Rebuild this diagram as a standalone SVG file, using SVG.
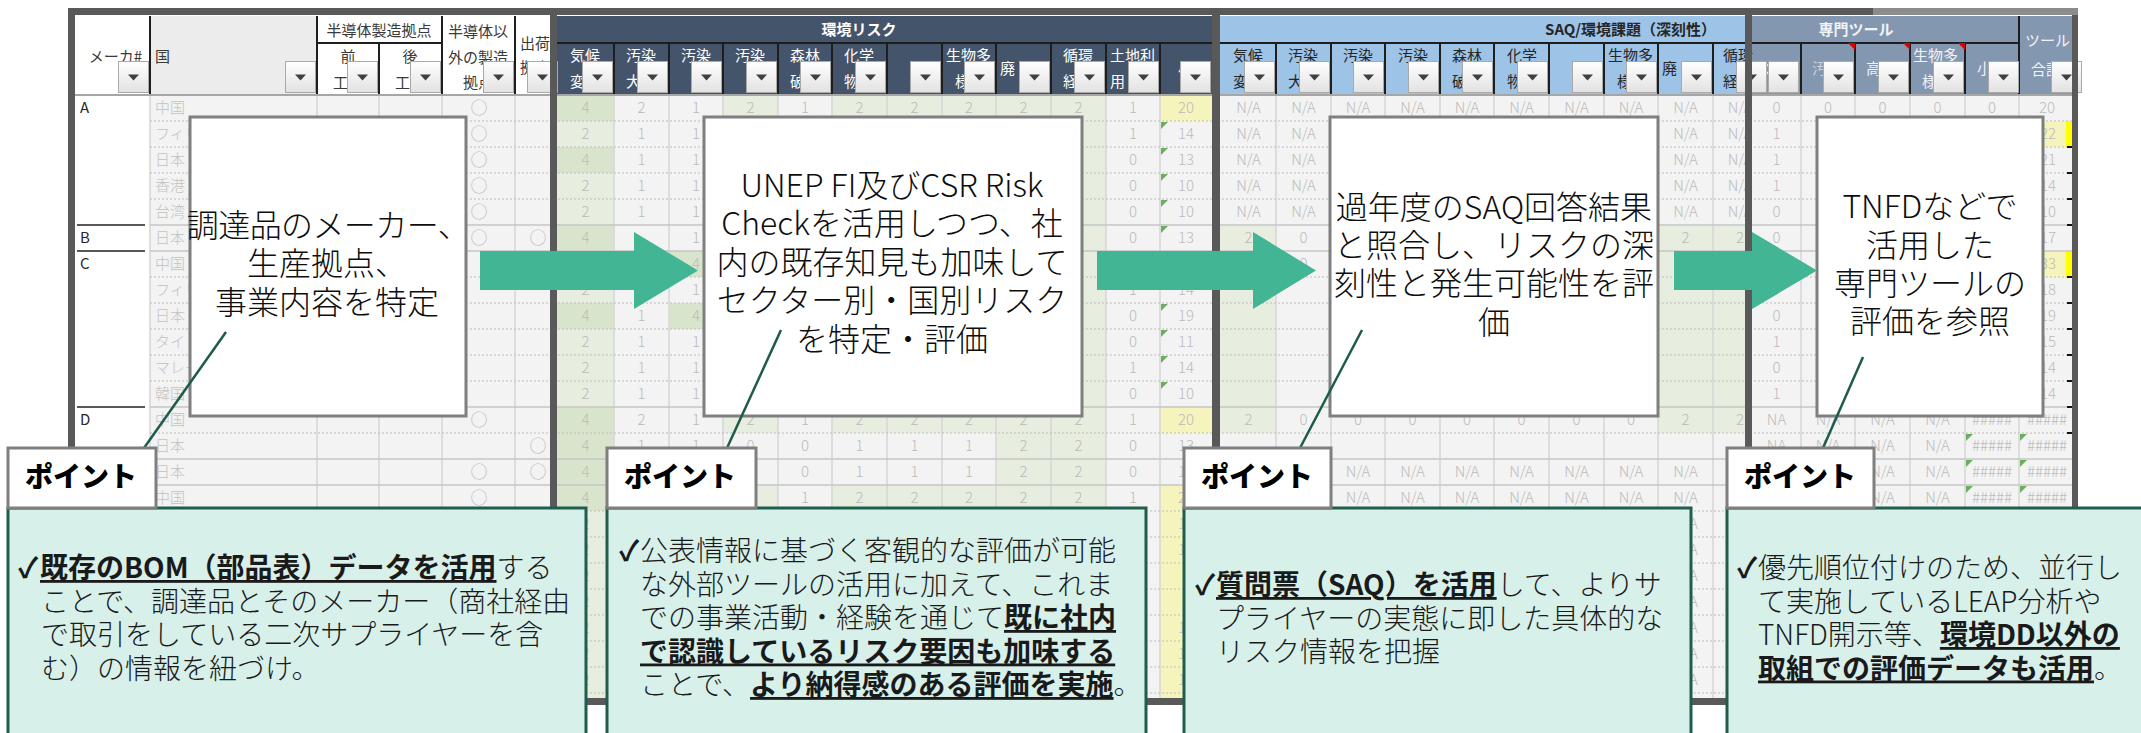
<svg xmlns="http://www.w3.org/2000/svg" width="2141" height="733" viewBox="0 0 2141 733">
<defs>
<linearGradient id="fg" x1="0" y1="0" x2="0" y2="1"><stop offset="0" stop-color="#FFFFFF"/><stop offset="1" stop-color="#E2E2E2"/></linearGradient>
<g id="flt"><rect x="0.5" y="0.5" width="30" height="31" fill="url(#fg)" stroke="#A9A9A9"/><path d="M10 13.5h11l-5.5 6z" fill="#3F3F3F"/></g>
<path id="gt" d="M0 0h7l-7 7z" fill="#6AAE5E"/>
<path id="rt" d="M0 0h7v7z" fill="#E00000"/>
</defs>
<style>
text{font-family:"Noto Sans CJK JP","Noto Sans CJK SC","Noto Sans",sans-serif}
.v{font-size:15px;fill:#BBBBBB;text-anchor:middle;font-weight:300}
.vl{font-size:15px;fill:#C2C2C2;font-weight:300}
.mk{font-size:15px;fill:#2A2A2A}
.o{font-size:17px;fill:#BBBBBB;text-anchor:middle}
.hd{font-size:15px;fill:#3A3A3A}
.hw{font-size:15px;fill:#FFFFFF}
.hb{font-size:15px;fill:#F0F3F7}
.hk{font-size:15px;fill:#262626}
.tt{font-size:15px;font-weight:700}
.bx{font-size:32px;fill:#0D0D0D;text-anchor:middle;font-weight:300}
.co{font-size:28px;fill:#1A1A1A;font-weight:300}
.b{font-weight:700}
.u{text-decoration:underline}
.pt{font-size:28px;font-weight:900;fill:#000000}
.box{fill:#FFFFFF;stroke:#7F7F7F;stroke-width:3}
.cal{fill:#D8F0EA;stroke:#1F5E4C;stroke-width:3}
.arr{fill:#42B594}
.ld{stroke:#1D5B4A;stroke-width:2.5;fill:none}
.g4{fill:#D8E4CC}
.g2{fill:#E7EEDF}
.y{fill:#F4F4BC}
</style>
<rect width="2141" height="733" fill="#FFFFFF"/>
<g id="sheet">
<rect x="75" y="16" width="476" height="79" fill="#FFFFFF"/>
<rect x="150" y="16" width="167" height="79" fill="#ECECEC"/>
<rect x="75" y="95" width="75" height="603" fill="#FFFFFF"/>
<rect x="150" y="95" width="401" height="603" fill="#F3F3F3"/>
<rect x="557" y="16" width="655" height="79" fill="#44546A"/>
<rect x="557" y="95" width="655" height="603" fill="#F3F3F3"/>
<rect x="1220" y="16" width="525" height="79" fill="#9DC3E6"/>
<rect x="1220" y="95" width="525" height="603" fill="#F3F3F3"/>
<rect x="1752" y="16" width="320" height="79" fill="#8497B0"/>
<rect x="1752" y="95" width="320" height="603" fill="#F3F3F3"/>
<rect class="g4" x="557" y="95" width="57" height="26"/>
<rect class="g2" x="723" y="95" width="55" height="26"/>
<rect class="g2" x="832" y="95" width="274" height="26"/>
<rect class="y" x="1160" y="95" width="52" height="26"/>
<rect class="g2" x="557" y="121" width="57" height="26"/>
<rect class="g4" x="557" y="147" width="57" height="26"/>
<rect class="g2" x="557" y="173" width="57" height="52"/>
<rect class="g4" x="557" y="225" width="57" height="52"/>
<rect class="g2" x="557" y="277" width="57" height="26"/>
<rect class="g4" x="557" y="303" width="57" height="26"/>
<rect class="g2" x="557" y="329" width="57" height="78"/>
<rect class="g4" x="669" y="251" width="54" height="26"/>
<rect class="g4" x="669" y="303" width="54" height="26"/>
<rect class="g2" x="1051" y="121" width="55" height="286"/>
<rect class="g4" x="557" y="407" width="57" height="104"/>
<rect class="g2" x="723" y="407" width="55" height="26"/>
<rect class="g2" x="832" y="407" width="274" height="26"/>
<rect class="y" x="1160" y="407" width="52" height="26"/>
<rect class="g2" x="996" y="433" width="110" height="52"/>
<rect class="g2" x="723" y="485" width="55" height="26"/>
<rect class="g2" x="832" y="485" width="274" height="26"/>
<rect class="y" x="1160" y="485" width="52" height="213"/>
<rect class="g2" x="557" y="511" width="57" height="187"/>
<rect class="g2" x="1220" y="225" width="56" height="208"/>
<rect class="g2" x="1658" y="225" width="87" height="208"/>
<rect class="y" x="2019" y="121" width="53" height="26"/>
<rect x="2066" y="121" width="6" height="26" fill="#FFFF00"/>
<rect class="y" x="2019" y="251" width="53" height="26"/>
<rect x="2066" y="251" width="6" height="26" fill="#FFFF00"/>
<path d="M150 95V698M317 95V698M379 95V698M442 95V698M515 95V698M614 95V698M669 95V698M723 95V698M778 95V698M832 95V698M887 95V698M942 95V698M996 95V698M1051 95V698M1106 95V698M1160 95V698M1276 95V698M1331 95V698M1385 95V698M1440 95V698M1494 95V698M1549 95V698M1604 95V698M1658 95V698M1713 95V698M1801 95V698M1855 95V698M1910 95V698M1965 95V698M2019 95V698" stroke="#D6D6D6" stroke-width="1.5" fill="none"/>
<path d="M150 121H2072M150 147H2072M150 173H2072M150 199H2072M150 277H2072M150 303H2072M150 329H2072M150 355H2072M150 381H2072M150 433H2072M150 511H2072M150 537H2072M150 563H2072M150 589H2072M150 615H2072M150 641H2072M150 667H2072M150 693H2072" stroke="#BDBDBD" stroke-dasharray="2 2" fill="none"/>
<path d="M150 225H2072M150 251H2072M150 407H2072M150 459H2072M150 485H2072" stroke="#C6C6C6" stroke-width="1.5" fill="none"/>
<path d="M77 225H145M77 251H145M77 407H145" stroke="#222222" stroke-width="1.5" fill="none"/>
<path d="M2067 147h5M2067 173h5M2067 199h5M2067 225h5M2067 277h5M2067 303h5M2067 329h5M2067 355h5M2067 381h5M2067 407h5M2067 433h5" stroke="#111111" stroke-width="2" fill="none"/>
<path d="M150 16V95M317 16V95M379 43V95M442 16V95M515 16V95M317 43H442M557 43H1212M614 43V95M669 43V95M723 43V95M778 43V95M832 43V95M887 43V95M942 43V95M996 43V95M1051 43V95M1106 43V95M1160 43V95M1220 43H1745M1276 43V95M1331 43V95M1385 43V95M1440 43V95M1494 43V95M1549 43V95M1604 43V95M1658 43V95M1713 43V95M1752 43H2019M1801 43V95M1855 43V95M1910 43V95M1965 43V95M2019 16V95" stroke="#1E1E1E" stroke-width="2" fill="none"/>
<path d="M75 95H2072" stroke="#A6A6A6" stroke-width="2" fill="none"/>
<text class="hd" x="142" y="62" text-anchor="end">メーカ#</text>
<text class="hd" x="155" y="62">国</text>
<text class="hd" x="379" y="36" text-anchor="middle">半導体製造拠点</text>
<text class="hd" x="348" y="62" text-anchor="middle">前</text>
<text class="hd" x="348" y="88" text-anchor="middle">工程</text>
<text class="hd" x="410" y="62" text-anchor="middle">後</text>
<text class="hd" x="410" y="88" text-anchor="middle">工程</text>
<text class="hd" x="478" y="37" text-anchor="middle">半導体以</text>
<text class="hd" x="478" y="63" text-anchor="middle">外の製造</text>
<text class="hd" x="478" y="88" text-anchor="middle">拠点</text>
<text class="hd" x="520" y="49">出荷</text>
<text class="hd" x="520" y="73">拠点</text>
<text class="hw tt" x="859" y="35" text-anchor="middle">環境リスク</text>
<text class="hw" x="570" y="61">気候</text><text class="hw" x="570" y="87">変</text>
<text class="hw" x="626" y="61">汚染</text><text class="hw" x="626" y="87">大</text>
<text class="hw" x="681" y="61">汚染</text>
<text class="hw" x="735" y="61">汚染</text>
<text class="hw" x="790" y="61">森林</text><text class="hw" x="790" y="87">破</text>
<text class="hw" x="844" y="61">化学</text><text class="hw" x="844" y="87">物</text>
<text class="hw" x="946" y="61">生物多</text><text class="hw" x="955" y="87">様</text>
<text class="hw" x="1000" y="74">廃</text>
<text class="hw" x="1063" y="61">循環</text><text class="hw" x="1063" y="87">経</text>
<text class="hw" x="1110" y="61">土地利</text><text class="hw" x="1110" y="87">用</text>
<text class="hw" x="1178" y="74">小</text>
<text class="hk tt" x="1716" y="35" text-anchor="end">SAQ/環境課題（深刻性）</text>
<text class="hk" x="1233" y="61">気候</text><text class="hk" x="1233" y="87">変</text>
<text class="hk" x="1288" y="61">汚染</text><text class="hk" x="1288" y="87">大</text>
<text class="hk" x="1343" y="61">汚染</text>
<text class="hk" x="1398" y="61">汚染</text>
<text class="hk" x="1452" y="61">森林</text><text class="hk" x="1452" y="87">破</text>
<text class="hk" x="1507" y="61">化学</text><text class="hk" x="1507" y="87">物</text>
<text class="hk" x="1608" y="61">生物多</text><text class="hk" x="1617" y="87">様</text>
<text class="hk" x="1662" y="74">廃</text>
<text class="hk" x="1723" y="61">循環</text><text class="hk" x="1723" y="87">経</text>
<text class="hb tt" x="1856" y="35" text-anchor="middle">専門ツール</text>
<text class="hb" x="1755" y="74">水</text>
<text class="hb" x="1812" y="74" style="fill:#C9D2DE">汚</text>
<text class="hb" x="1866" y="74">高</text>
<text class="hb" x="1913" y="61">生物多</text><text class="hb" x="1922" y="87">様</text>
<text class="hb" x="1977" y="74">小</text>
<text class="hb" x="2025" y="46">ツール</text>
<text class="hb" x="2031" y="75">合計</text>
<use href="#rt" x="1848" y="43"/><use href="#rt" x="1903" y="43"/><use href="#rt" x="1958" y="43"/>
<use href="#flt" x="118" y="61"/><use href="#flt" x="285" y="61"/><use href="#flt" x="347" y="61"/><use href="#flt" x="410" y="61"/><use href="#flt" x="483" y="61"/><use href="#flt" x="527" y="61"/>
<use href="#flt" x="582" y="61"/><use href="#flt" x="637" y="61"/><use href="#flt" x="691" y="61"/><use href="#flt" x="746" y="61"/><use href="#flt" x="800" y="61"/><use href="#flt" x="855" y="61"/><use href="#flt" x="910" y="61"/><use href="#flt" x="964" y="61"/><use href="#flt" x="1019" y="61"/><use href="#flt" x="1074" y="61"/><use href="#flt" x="1128" y="61"/><use href="#flt" x="1180" y="61"/>
<use href="#flt" x="1244" y="61"/><use href="#flt" x="1299" y="61"/><use href="#flt" x="1353" y="61"/><use href="#flt" x="1408" y="61"/><use href="#flt" x="1462" y="61"/><use href="#flt" x="1517" y="61"/><use href="#flt" x="1572" y="61"/><use href="#flt" x="1626" y="61"/><use href="#flt" x="1681" y="61"/><use href="#flt" x="1736" y="61"/>
<use href="#flt" x="1768" y="61"/><use href="#flt" x="1823" y="61"/><use href="#flt" x="1878" y="61"/><use href="#flt" x="1933" y="61"/><use href="#flt" x="1988" y="61"/><use href="#flt" x="2051" y="61"/>
<text class="mk" x="80" y="113">A</text><text class="mk" x="80" y="243">B</text><text class="mk" x="80" y="269">C</text><text class="mk" x="80" y="425">D</text>
<text class="vl" x="155" y="113">中国</text><text class="vl" x="155" y="139">フィリ</text><text class="vl" x="155" y="165">日本</text><text class="vl" x="155" y="191">香港</text><text class="vl" x="155" y="217">台湾</text><text class="vl" x="155" y="243">日本</text><text class="vl" x="155" y="269">中国</text><text class="vl" x="155" y="295">フィリ</text><text class="vl" x="155" y="321">日本</text><text class="vl" x="155" y="347">タイ</text><text class="vl" x="155" y="373">マレー</text><text class="vl" x="155" y="399">韓国</text><text class="vl" x="155" y="425">中国</text><text class="vl" x="155" y="451">日本</text><text class="vl" x="155" y="477">日本</text><text class="vl" x="155" y="503">中国</text>
<text class="o" x="479" y="114">○</text><text class="o" x="479" y="140">○</text><text class="o" x="479" y="166">○</text><text class="o" x="479" y="192">○</text><text class="o" x="479" y="218">○</text><text class="o" x="479" y="244">○</text><text class="o" x="479" y="426">○</text><text class="o" x="479" y="478">○</text><text class="o" x="479" y="504">○</text>
<text class="o" x="538" y="244">○</text><text class="o" x="538" y="452">○</text><text class="o" x="538" y="478">○</text>
<text class="v" x="585.5" y="113">4</text><text class="v" x="641.5" y="113">2</text><text class="v" x="696" y="113">1</text><text class="v" x="750.5" y="113">2</text><text class="v" x="805" y="113">1</text><text class="v" x="859.5" y="113">2</text><text class="v" x="914.5" y="113">2</text><text class="v" x="969" y="113">2</text><text class="v" x="1023.5" y="113">2</text><text class="v" x="1078.5" y="113">2</text><text class="v" x="1133" y="113">1</text><text class="v" x="1186" y="113">20</text>
<text class="v" x="585.5" y="139">2</text><text class="v" x="641.5" y="139">1</text><text class="v" x="696" y="139">1</text><text class="v" x="1133" y="139">1</text><text class="v" x="1186" y="139">14</text>
<text class="v" x="585.5" y="165">4</text><text class="v" x="641.5" y="165">1</text><text class="v" x="696" y="165">1</text><text class="v" x="1133" y="165">0</text><text class="v" x="1186" y="165">13</text>
<text class="v" x="585.5" y="191">2</text><text class="v" x="641.5" y="191">1</text><text class="v" x="696" y="191">1</text><text class="v" x="1133" y="191">0</text><text class="v" x="1186" y="191">10</text>
<text class="v" x="585.5" y="217">2</text><text class="v" x="641.5" y="217">1</text><text class="v" x="696" y="217">1</text><text class="v" x="1133" y="217">0</text><text class="v" x="1186" y="217">10</text>
<text class="v" x="585.5" y="243">4</text><text class="v" x="696" y="243">1</text><text class="v" x="1133" y="243">0</text><text class="v" x="1186" y="243">13</text>
<text class="v" x="696" y="269">4</text>
<text class="v" x="585.5" y="295">2</text><text class="v" x="696" y="295">1</text><text class="v" x="1133" y="295">1</text><text class="v" x="1186" y="295">14</text>
<text class="v" x="585.5" y="321">4</text><text class="v" x="641.5" y="321">1</text><text class="v" x="696" y="321">4</text><text class="v" x="1133" y="321">0</text><text class="v" x="1186" y="321">19</text>
<text class="v" x="585.5" y="347">2</text><text class="v" x="641.5" y="347">1</text><text class="v" x="696" y="347">1</text><text class="v" x="1133" y="347">0</text><text class="v" x="1186" y="347">11</text>
<text class="v" x="585.5" y="373">2</text><text class="v" x="641.5" y="373">1</text><text class="v" x="696" y="373">1</text><text class="v" x="1133" y="373">1</text><text class="v" x="1186" y="373">14</text>
<text class="v" x="585.5" y="399">2</text><text class="v" x="641.5" y="399">1</text><text class="v" x="696" y="399">1</text><text class="v" x="1133" y="399">0</text><text class="v" x="1186" y="399">10</text>
<text class="v" x="585.5" y="425">4</text><text class="v" x="641.5" y="425">2</text><text class="v" x="696" y="425">1</text><text class="v" x="750.5" y="425">2</text><text class="v" x="805" y="425">1</text><text class="v" x="859.5" y="425">2</text><text class="v" x="914.5" y="425">2</text><text class="v" x="969" y="425">2</text><text class="v" x="1023.5" y="425">2</text><text class="v" x="1078.5" y="425">2</text><text class="v" x="1133" y="425">1</text><text class="v" x="1186" y="425">20</text>
<text class="v" x="585.5" y="451">4</text><text class="v" x="641.5" y="451">1</text><text class="v" x="696" y="451">1</text><text class="v" x="750.5" y="451">0</text><text class="v" x="805" y="451">0</text><text class="v" x="859.5" y="451">1</text><text class="v" x="914.5" y="451">1</text><text class="v" x="969" y="451">1</text><text class="v" x="1023.5" y="451">2</text><text class="v" x="1078.5" y="451">2</text><text class="v" x="1133" y="451">0</text><text class="v" x="1186" y="451">13</text>
<text class="v" x="585.5" y="477">4</text><text class="v" x="805" y="477">0</text><text class="v" x="859.5" y="477">1</text><text class="v" x="914.5" y="477">1</text><text class="v" x="969" y="477">1</text><text class="v" x="1023.5" y="477">2</text><text class="v" x="1078.5" y="477">2</text><text class="v" x="1133" y="477">0</text><text class="v" x="1186" y="477">14</text>
<text class="v" x="585.5" y="503">4</text><text class="v" x="805" y="503">1</text><text class="v" x="859.5" y="503">2</text><text class="v" x="914.5" y="503">2</text><text class="v" x="969" y="503">2</text><text class="v" x="1023.5" y="503">2</text><text class="v" x="1078.5" y="503">2</text><text class="v" x="1133" y="503">1</text><text class="v" x="1186" y="503">20</text>
<text class="v" x="585.5" y="529">2</text><text class="v" x="585.5" y="555">2</text><text class="v" x="585.5" y="581">2</text><text class="v" x="585.5" y="607">2</text><text class="v" x="585.5" y="633">2</text><text class="v" x="585.5" y="659">2</text><text class="v" x="585.5" y="685">2</text>
<text class="v" x="1186" y="529">14</text><text class="v" x="1186" y="555">19</text><text class="v" x="1186" y="633">16</text><text class="v" x="1186" y="659">13</text><text class="v" x="1186" y="685">17</text>
<use href="#gt" x="1161" y="122"/><use href="#gt" x="1161" y="148"/><use href="#gt" x="1161" y="174"/><use href="#gt" x="1161" y="200"/><use href="#gt" x="1161" y="226"/><use href="#gt" x="1161" y="278"/><use href="#gt" x="1161" y="304"/><use href="#gt" x="1161" y="330"/><use href="#gt" x="1161" y="356"/><use href="#gt" x="1161" y="382"/>
<text class="v" x="1248.5" y="113">N/A</text><text class="v" x="1303.5" y="113">N/A</text><text class="v" x="1358" y="113">N/A</text><text class="v" x="1412.5" y="113">N/A</text><text class="v" x="1467" y="113">N/A</text><text class="v" x="1521.5" y="113">N/A</text><text class="v" x="1576.5" y="113">N/A</text><text class="v" x="1631" y="113">N/A</text><text class="v" x="1685.5" y="113">N/A</text><text class="v" x="1740" y="113">N/A</text>
<text class="v" x="1248.5" y="139">N/A</text><text class="v" x="1303.5" y="139">N/A</text><text class="v" x="1685.5" y="139">N/A</text><text class="v" x="1740" y="139">N/A</text>
<text class="v" x="1248.5" y="165">N/A</text><text class="v" x="1303.5" y="165">N/A</text><text class="v" x="1685.5" y="165">N/A</text><text class="v" x="1740" y="165">N/A</text>
<text class="v" x="1248.5" y="191">N/A</text><text class="v" x="1303.5" y="191">N/A</text><text class="v" x="1685.5" y="191">N/A</text><text class="v" x="1740" y="191">N/A</text>
<text class="v" x="1248.5" y="217">N/A</text><text class="v" x="1303.5" y="217">N/A</text><text class="v" x="1685.5" y="217">N/A</text><text class="v" x="1740" y="217">N/A</text>
<text class="v" x="1248.5" y="243">2</text><text class="v" x="1303.5" y="243">0</text><text class="v" x="1685.5" y="243">2</text><text class="v" x="1740" y="243">2</text>
<text class="v" x="1303.5" y="269">0</text>
<text class="v" x="1248.5" y="425">2</text><text class="v" x="1303.5" y="425">0</text><text class="v" x="1358" y="425">0</text><text class="v" x="1412.5" y="425">0</text><text class="v" x="1467" y="425">0</text><text class="v" x="1521.5" y="425">0</text><text class="v" x="1576.5" y="425">0</text><text class="v" x="1631" y="425">0</text><text class="v" x="1685.5" y="425">2</text><text class="v" x="1740" y="425">2</text>
<text class="v" x="1358" y="477">N/A</text><text class="v" x="1412.5" y="477">N/A</text><text class="v" x="1467" y="477">N/A</text><text class="v" x="1521.5" y="477">N/A</text><text class="v" x="1576.5" y="477">N/A</text><text class="v" x="1631" y="477">N/A</text><text class="v" x="1685.5" y="477">N/A</text>
<text class="v" x="1358" y="503">N/A</text><text class="v" x="1412.5" y="503">N/A</text><text class="v" x="1467" y="503">N/A</text><text class="v" x="1521.5" y="503">N/A</text><text class="v" x="1576.5" y="503">N/A</text><text class="v" x="1631" y="503">N/A</text><text class="v" x="1685.5" y="503">N/A</text>
<text class="v" x="1685.5" y="529">N/A</text><text class="v" x="1685.5" y="555">N/A</text><text class="v" x="1685.5" y="581">N/A</text><text class="v" x="1685.5" y="607">N/A</text><text class="v" x="1685.5" y="633">N/A</text><text class="v" x="1685.5" y="659">N/A</text><text class="v" x="1685.5" y="685">N/A</text>
<text class="v" x="1776.5" y="113">0</text><text class="v" x="1828" y="113">0</text><text class="v" x="1882.5" y="113">0</text><text class="v" x="1937.5" y="113">0</text><text class="v" x="1992" y="113">0</text><text class="v" x="2047" y="113">20</text>
<text class="v" x="1776.5" y="139">1</text><text class="v" x="1776.5" y="165">1</text><text class="v" x="1776.5" y="191">1</text><text class="v" x="1776.5" y="217">0</text><text class="v" x="1776.5" y="243">0</text><text class="v" x="1776.5" y="321">0</text><text class="v" x="1776.5" y="347">1</text><text class="v" x="1776.5" y="373">0</text><text class="v" x="1776.5" y="399">1</text>
<text class="v" x="2048" y="139">22</text><text class="v" x="2048" y="165">21</text><text class="v" x="2048" y="191">14</text><text class="v" x="2048" y="217">10</text><text class="v" x="2048" y="243">17</text><text class="v" x="2048" y="269">33</text><text class="v" x="2048" y="295">18</text><text class="v" x="2048" y="321">19</text><text class="v" x="2048" y="347">15</text><text class="v" x="2048" y="373">14</text><text class="v" x="2048" y="399">14</text>
<text class="v" x="1776.5" y="425">NA</text><text class="v" x="1828" y="425">N/A</text><text class="v" x="1882.5" y="425">N/A</text><text class="v" x="1937.5" y="425">N/A</text><text class="v" x="1992" y="425">#####</text><text class="v" x="2047" y="425">#####</text>
<text class="v" x="1776.5" y="451">NA</text><text class="v" x="1828" y="451">N/A</text><text class="v" x="1882.5" y="451">N/A</text><text class="v" x="1937.5" y="451">N/A</text><text class="v" x="1992" y="451">#####</text><text class="v" x="2047" y="451">#####</text>
<text class="v" x="1882.5" y="477">N/A</text><text class="v" x="1937.5" y="477">N/A</text><text class="v" x="1992" y="477">#####</text><text class="v" x="2047" y="477">#####</text>
<text class="v" x="1882.5" y="503">N/A</text><text class="v" x="1937.5" y="503">N/A</text><text class="v" x="1992" y="503">#####</text><text class="v" x="2047" y="503">#####</text>
<use href="#gt" x="1966" y="434"/><use href="#gt" x="2020" y="434"/><use href="#gt" x="1966" y="460"/><use href="#gt" x="2020" y="460"/><use href="#gt" x="1966" y="486"/><use href="#gt" x="2020" y="486"/>
<g fill="#595959">
<rect x="68" y="8" width="2010" height="7"/>
<rect x="68" y="8" width="7" height="697"/>
<rect x="550" y="8" width="7" height="697"/>
<rect x="1212" y="8" width="8" height="697"/>
<rect x="1745" y="8" width="7" height="697"/>
<rect x="2072" y="8" width="6" height="697"/>
<rect x="68" y="698" width="2010" height="7"/>
</g>
<rect x="1873" y="8" width="205" height="7" fill="#8C8C8C"/>
</g>
<g id="box1"><rect class="box" x="190" y="117" width="276" height="299"/>
<text class="bx"><tspan x="328" y="237" style="letter-spacing:-0.6px">調達品のメーカー、</tspan><tspan x="327" y="275">生産拠点、</tspan><tspan x="327" y="314">事業内容を特定</tspan></text></g>
<g id="box2"><rect class="box" x="704" y="117" width="378" height="299"/>
<text class="bx"><tspan x="892" y="197">UNEP FI及びCSR Risk</tspan><tspan x="892" y="235">Checkを活用しつつ、社</tspan><tspan x="892" y="274">内の既存知見も加味して</tspan><tspan x="892" y="312">セクター別・国別リスク</tspan><tspan x="892" y="351">を特定・評価</tspan></text></g>
<g id="box3"><rect class="box" x="1330" y="117" width="328" height="299"/>
<text class="bx"><tspan x="1494" y="219">過年度のSAQ回答結果</tspan><tspan x="1494" y="257">と照合し、リスクの深</tspan><tspan x="1494" y="295">刻性と発生可能性を評</tspan><tspan x="1494" y="334">価</tspan></text></g>
<g id="box4"><rect class="box" x="1817" y="117" width="226" height="299"/>
<text class="bx"><tspan x="1930" y="218">TNFDなどで</tspan><tspan x="1930" y="257">活用した</tspan><tspan x="1930" y="295">専門ツールの</tspan><tspan x="1930" y="333">評価を参照</tspan></text></g>
<g id="connectors">
<polygon class="arr" points="480,251 634,251 634,232 698,270.5 634,309 634,290 480,290"/>
<polygon class="arr" points="1097,251 1253,251 1253,232 1316,270.5 1253,309 1253,290 1097,290"/>
<polygon class="arr" points="1674,251 1752,251 1752,232 1817,270.5 1752,309 1752,290 1674,290"/>
<line class="ld" x1="226" y1="332" x2="144" y2="448"/>
<line class="ld" x1="781" y1="330" x2="727" y2="448"/>
<line class="ld" x1="1362" y1="330" x2="1300" y2="448"/>
<line class="ld" x1="1863" y1="357" x2="1823" y2="448"/>
</g>
<g id="callout1"><rect class="cal" x="8" y="508" width="578" height="245"/>
<text class="co"><tspan x="18" y="578" class="b">✓</tspan><tspan x="40" y="578" class="b u">既存のBOM（部品表）データを活用</tspan><tspan>する</tspan><tspan x="41" y="611.5">ことで、調達品とそのメーカー（商社経由</tspan><tspan x="41" y="645">で取引をしている二次サプライヤーを含</tspan><tspan x="41" y="678.5">む）の情報を紐づけ。</tspan></text></g>
<g id="callout2"><rect class="cal" x="607" y="508" width="539" height="245"/>
<text class="co"><tspan x="619" y="561" class="b">✓</tspan><tspan x="640" y="561">公表情報に基づく客観的な評価が可能</tspan><tspan x="640" y="594.5">な外部ツールの活用に加えて、これま</tspan><tspan x="640" y="628">での事業活動・経験を通じて</tspan><tspan class="b u">既に社内</tspan><tspan x="640" y="661.5" class="b u">で認識しているリスク要因も加味する</tspan><tspan x="640" y="695">ことで、</tspan><tspan class="b u">より納得感のある評価を実施</tspan><tspan>。</tspan></text></g>
<g id="callout3"><rect class="cal" x="1184" y="508" width="507" height="245"/>
<text class="co"><tspan x="1195" y="595" class="b">✓</tspan><tspan x="1216" y="595" class="b u">質問票（SAQ）を活用</tspan><tspan>して、よりサ</tspan><tspan x="1216" y="628.5">プライヤーの実態に即した具体的な</tspan><tspan x="1216" y="662">リスク情報を把握</tspan></text></g>
<g id="callout4"><rect class="cal" x="1727" y="508" width="430" height="245"/>
<text class="co"><tspan x="1737" y="578" class="b">✓</tspan><tspan x="1758" y="578">優先順位付けのため、並行し</tspan><tspan x="1758" y="611.5">て実施しているLEAP分析や</tspan><tspan x="1758" y="645">TNFD開示等、</tspan><tspan class="b u">環境DD以外の</tspan><tspan x="1758" y="678.5" class="b u">取組での評価データも活用</tspan><tspan>。</tspan></text></g>
<g id="point1"><rect class="box" x="8" y="448" width="148" height="60"/><text class="pt" x="25" y="487">ポイント</text></g>
<g id="point2"><rect class="box" x="607" y="448" width="149" height="60"/><text class="pt" x="624" y="487">ポイント</text></g>
<g id="point3"><rect class="box" x="1184" y="448" width="147" height="60"/><text class="pt" x="1201" y="487">ポイント</text></g>
<g id="point4"><rect class="box" x="1727" y="448" width="147" height="60"/><text class="pt" x="1744" y="487">ポイント</text></g>
</svg>
